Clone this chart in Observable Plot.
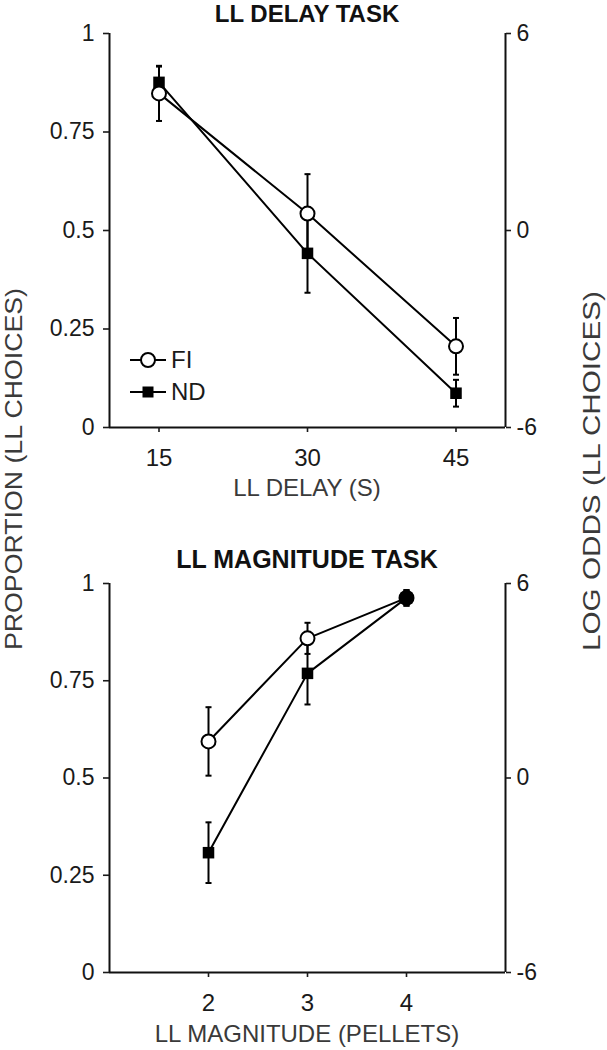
<!DOCTYPE html>
<html>
<head>
<meta charset="utf-8">
<script src="https://cdn.jsdelivr.net/npm/d3@7"></script>
<script src="https://cdn.jsdelivr.net/npm/@observablehq/plot@0.6"></script>
<style>
  html, body { margin: 0; padding: 0; background: #fff; }
  #wrap { position: relative; width: 607px; height: 1050px; overflow: hidden; font-family: "Liberation Sans", Arial, sans-serif; }
  #wrap > svg, #wrap > div { position: absolute; left: 0; }
</style>
</head>
<body>
<div id="wrap"></div>
<script>
// ---------- data ----------
const delayLevels = [15, 30, 45];
const delayFI     = [0.848, 0.543, 0.206];
const delayFIErr  = [0.070, 0.100, 0.072];
const delayND     = [0.876, 0.442, 0.087];
const delayNDErr  = [0.040, 0.100, 0.034];

const magLevels = [2, 3, 4];
const magFI     = [0.594, 0.859, 0.963];
const magFIErr  = [0.088, 0.040, 0.020];
const magND     = [0.308, 0.769, 0.963];
const magNDErr  = [0.078, 0.080, 0.020];

const seriesNames = ["FI", "ND"];
const propTicks = [0, 0.25, 0.5, 0.75, 1];
const propTickLabels = ["0", "0.25", "0.5", "0.75", "1"];
const oddsTicks = [0, 0.5, 1];
const oddsTickLabels = ["-6", "0", "6"];

const titles = ["LL DELAY TASK", "LL MAGNITUDE TASK"];
const xLabels = ["LL DELAY (S)", "LL MAGNITUDE (PELLETS)"];
const leftLabel = "PROPORTION (LL CHOICES)";
const rightLabel = "LOG ODDS (LL CHOICES)";

// ---------- helpers ----------
const capSymbol = {
  draw(ctx, size) {
    const w = Math.sqrt(size);
    ctx.moveTo(-w / 2, 0);
    ctx.lineTo(w / 2, 0);
  }
};

function makeRows(levels, vals, errs, series) {
  return levels.map((x, i) => ({series, x, y: vals[i], lo: vals[i] - errs[i], hi: vals[i] + errs[i]}));
}

function panel({levels, fi, fiErr, nd, ndErr, xDomain, height, marginTop, marginBottom}) {
  const fiRows = makeRows(levels, fi, fiErr, seriesNames[0]);
  const ndRows = makeRows(levels, nd, ndErr, seriesNames[1]);
  const all = fiRows.concat(ndRows);
  const fiFill = d => (Math.abs(nd[levels.indexOf(d.x)] - d.y) < 0.01 ? "black" : "white");
  return Plot.plot({
    width: 607,
    height,
    marginTop,
    marginBottom,
    marginLeft: 109,
    marginRight: 102,
    style: {fontFamily: "'Liberation Sans', Arial, sans-serif", color: "#1a1a1a", background: "transparent"},
    x: {domain: xDomain},
    y: {domain: [0, 1]},
    marks: [
      Plot.ruleX([xDomain[0]], {stroke: "#111", strokeWidth: 2}),
      Plot.ruleX([xDomain[1]], {stroke: "#111", strokeWidth: 2}),
      Plot.ruleY([0], {stroke: "#111", strokeWidth: 2}),
      Plot.axisY({anchor: "left", ticks: propTicks, tickFormat: d => propTickLabels[propTicks.indexOf(d)],
        tickSize: 6, tickPadding: 9, fontSize: 23, strokeWidth: 1.6, label: null}),
      Plot.axisY({anchor: "right", ticks: oddsTicks, tickFormat: d => oddsTickLabels[oddsTicks.indexOf(d)],
        tickSize: 5, tickPadding: 6, fontSize: 23, strokeWidth: 1.6, label: null}),
      Plot.axisX({anchor: "bottom", ticks: levels, tickFormat: d => String(d),
        tickSize: 5, tickPadding: 16, fontSize: 24, strokeWidth: 1.6, label: null}),
      Plot.line(ndRows, {x: "x", y: "y", stroke: "black", strokeWidth: 2}),
      Plot.line(fiRows, {x: "x", y: "y", stroke: "black", strokeWidth: 2}),
      Plot.ruleX(all, {x: "x", y1: "lo", y2: "hi", stroke: "black", strokeWidth: 2}),
      Plot.dot(all, {x: "x", y: "hi", symbol: capSymbol, r: 3.4, fill: "none", stroke: "black", strokeWidth: 2}),
      Plot.dot(all, {x: "x", y: "lo", symbol: capSymbol, r: 3.4, fill: "none", stroke: "black", strokeWidth: 2}),
      Plot.dot(ndRows, {x: "x", y: "y", symbol: "square", r: 6.5, fill: "black", stroke: "none"}),
      Plot.dot(fiRows, {x: "x", y: "y", r: 7, fill: fiFill, stroke: "black", strokeWidth: 2})
    ]
  });
}

const wrap = document.getElementById("wrap");

const topPanel = panel({levels: delayLevels, fi: delayFI, fiErr: delayFIErr, nd: delayND, ndErr: delayNDErr,
  xDomain: [10, 50], height: 505, marginTop: 33, marginBottom: 78});
topPanel.style.top = "0px";
wrap.appendChild(topPanel);

const bottomPanel = panel({levels: magLevels, fi: magFI, fiErr: magFIErr, nd: magND, ndErr: magNDErr,
  xDomain: [1, 5], height: 545, marginTop: 78, marginBottom: 78});
bottomPanel.style.top = "505px";
wrap.appendChild(bottomPanel);

// ---------- overlay: titles, axis titles, legend ----------
const svg = d3.select(wrap).append("svg")
  .attr("width", 607).attr("height", 1050)
  .style("top", "0px")
  .style("font-family", "'Liberation Sans', Arial, sans-serif")
  .style("pointer-events", "none");

svg.append("text").attr("x", 307).attr("y", 22).attr("text-anchor", "middle")
  .attr("font-size", 24).attr("font-weight", "bold").attr("fill", "#111").text(titles[0]);
svg.append("text").attr("x", 307).attr("y", 568).attr("text-anchor", "middle")
  .attr("font-size", 25).attr("font-weight", "bold").attr("fill", "#111").text(titles[1]);

svg.append("text").attr("x", 307).attr("y", 496).attr("text-anchor", "middle")
  .attr("font-size", 24).attr("fill", "#3a3a3a").text(xLabels[0]);
svg.append("text").attr("x", 307).attr("y", 1042).attr("text-anchor", "middle")
  .attr("font-size", 24).attr("fill", "#3a3a3a").text(xLabels[1]);

svg.append("text").attr("transform", "translate(22,469) rotate(-90)").attr("text-anchor", "middle")
  .attr("font-size", 24).attr("fill", "#3a3a3a")
  .attr("textLength", 362).attr("lengthAdjust", "spacingAndGlyphs").text(leftLabel);
svg.append("text").attr("transform", "translate(600,471) rotate(-90)").attr("text-anchor", "middle")
  .attr("font-size", 24).attr("fill", "#3a3a3a")
  .attr("textLength", 360).attr("lengthAdjust", "spacingAndGlyphs").text(rightLabel);

// legend
const lg = svg.append("g");
[[seriesNames[0], 360], [seriesNames[1], 392]].forEach(([name, y], i) => {
  lg.append("line").attr("x1", 130).attr("x2", 166).attr("y1", y).attr("y2", y)
    .attr("stroke", "black").attr("stroke-width", 2);
  if (i === 0) {
    lg.append("circle").attr("cx", 148).attr("cy", y).attr("r", 7)
      .attr("fill", "white").attr("stroke", "black").attr("stroke-width", 2);
  } else {
    lg.append("rect").attr("x", 142.5).attr("y", y - 5.5).attr("width", 11).attr("height", 11).attr("fill", "black");
  }
  lg.append("text").attr("x", 171).attr("y", y).attr("dy", "0.35em")
    .attr("font-size", 24).attr("fill", "#1a1a1a").text(name);
});
</script>
</body>
</html>
